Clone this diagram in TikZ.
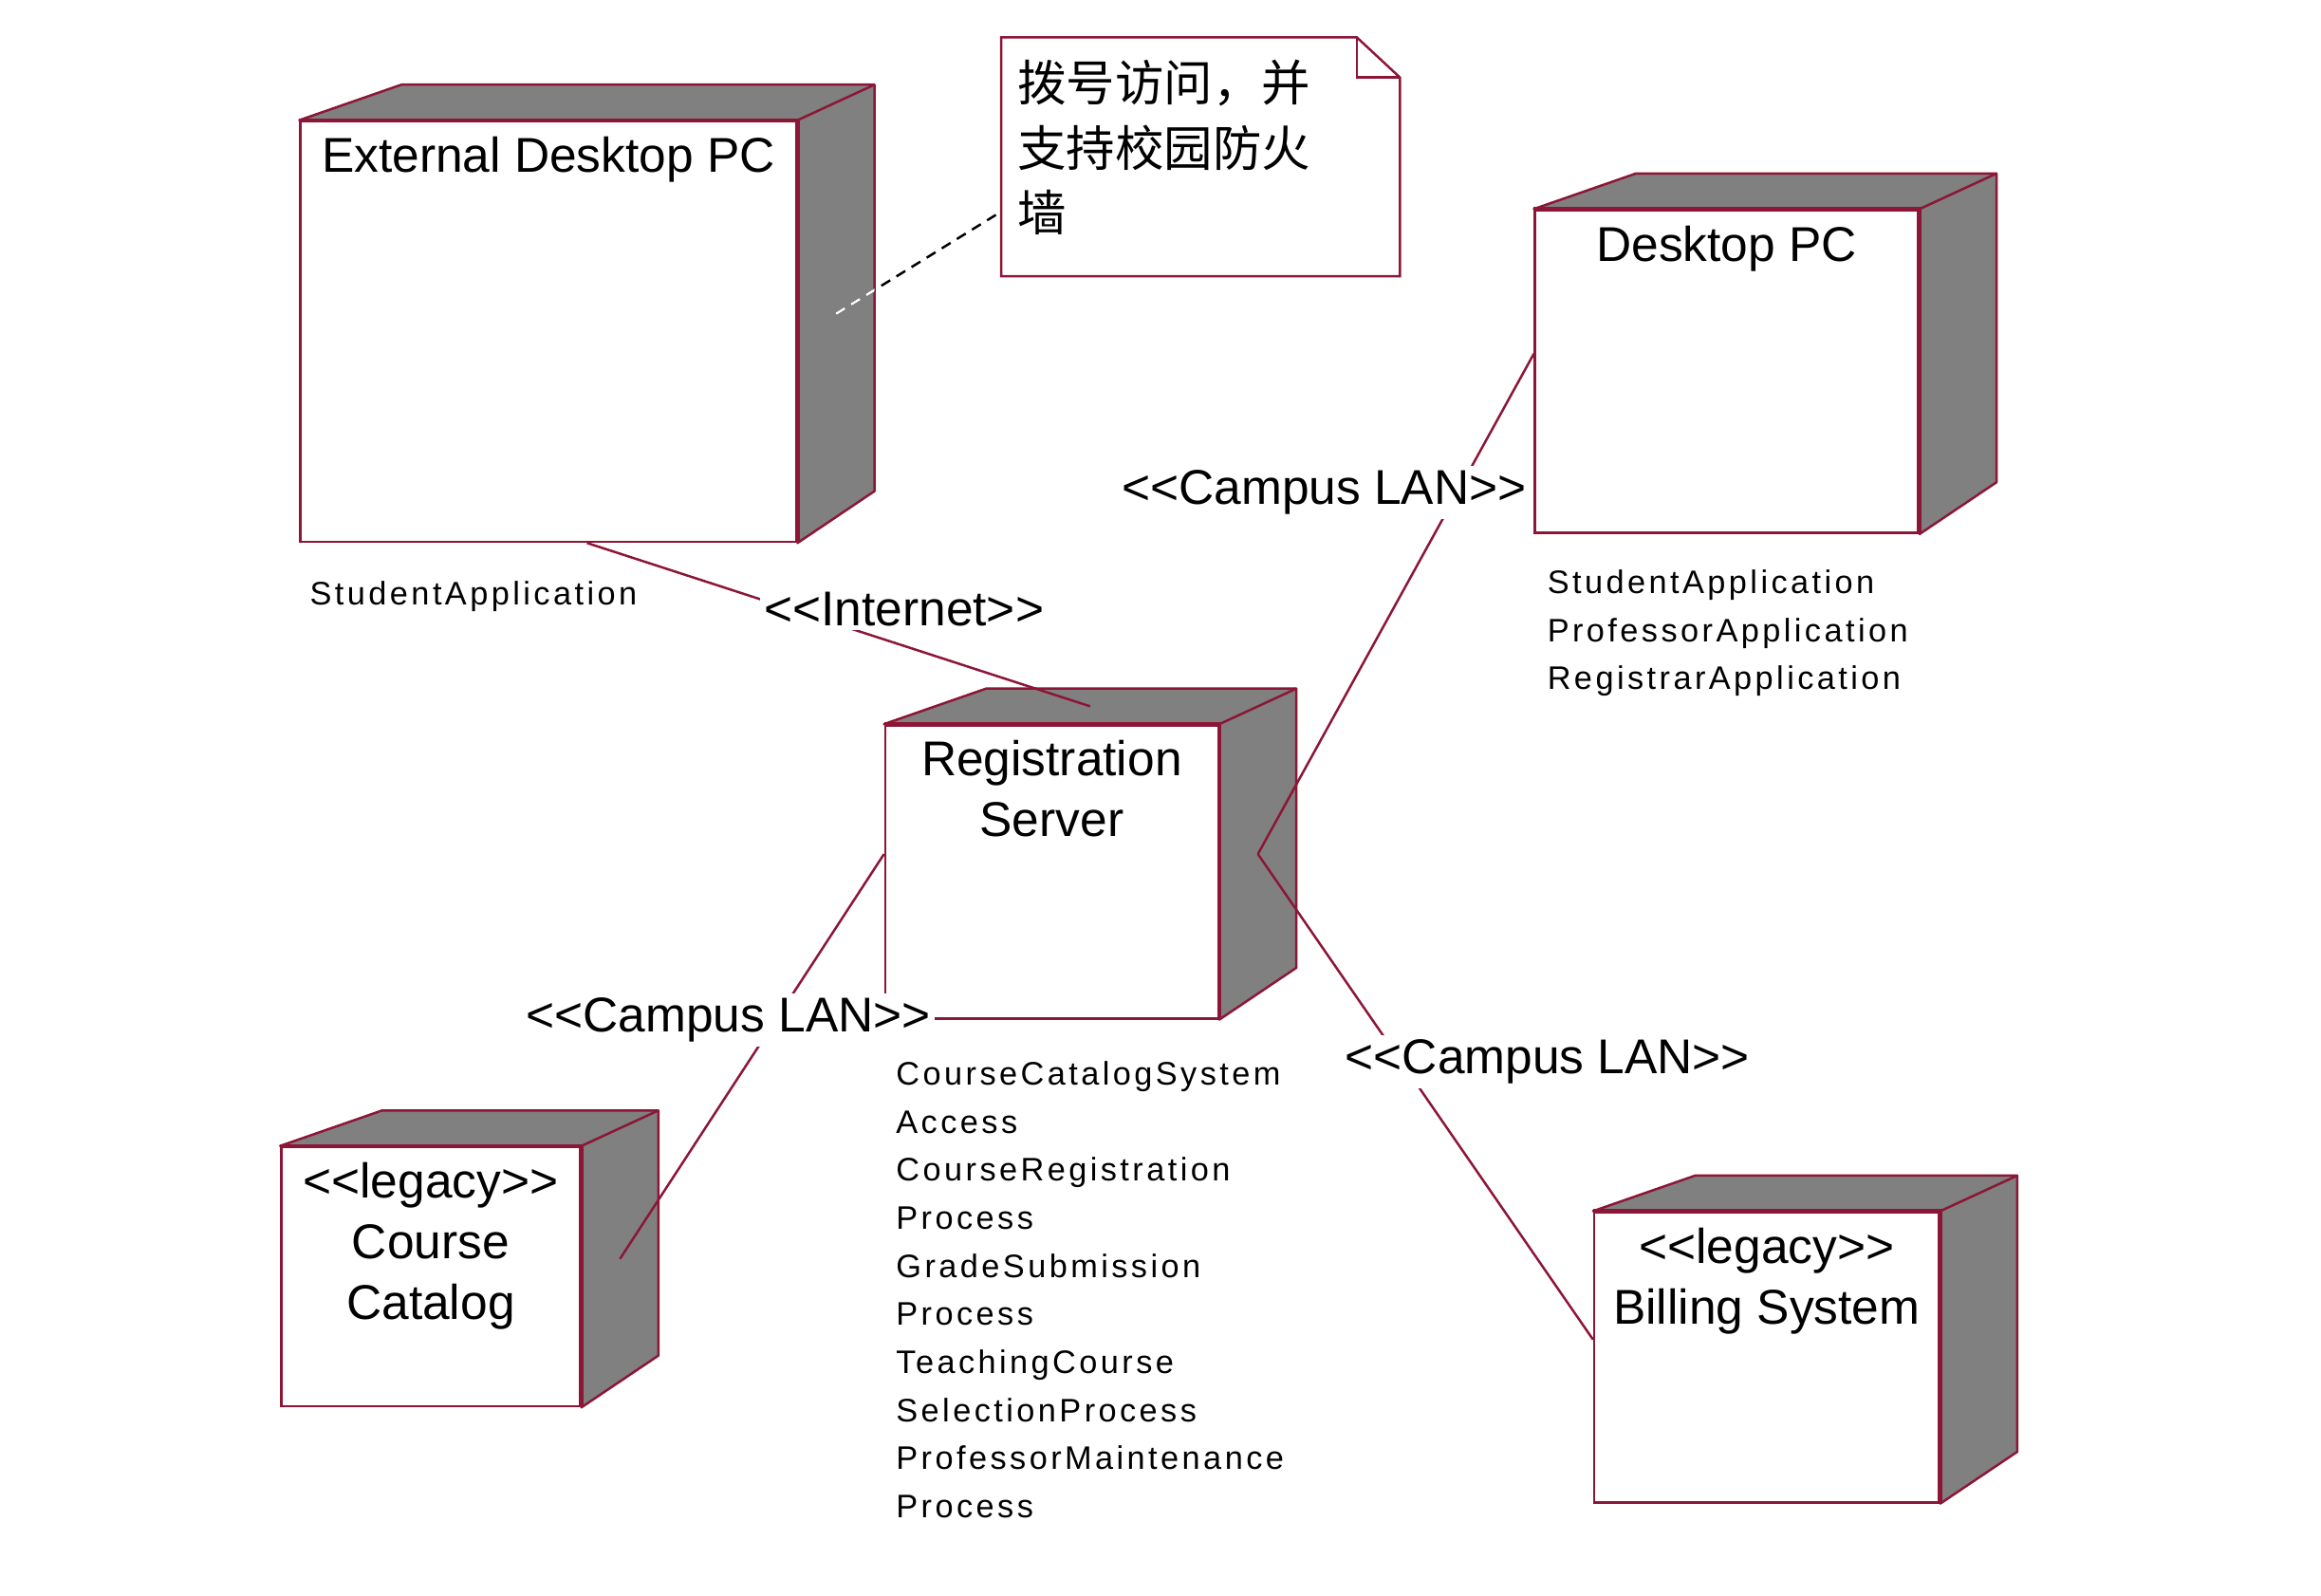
\documentclass[tikz,border=0pt]{standalone}
\usepackage{fontspec}
\setmainfont{Liberation Sans}
\newfontfamily\cjkfont{Noto Sans CJK SC}
\newfontfamily\appfont[LetterSpace=10]{Liberation Sans}
\usetikzlibrary{positioning, fit}
\definecolor{umlred}{RGB}{140,22,55}
\definecolor{facegray}{RGB}{128,128,128}
\newcommand{\stereo}[1]{<\kern0pt<#1>\kern0pt>}

\begin{document}
\begin{tikzpicture}[x=1pt, y=-1pt]
    \tikzset{device/.style 2 args={rectangle, draw=umlred, fill=white, line width=1.6pt, minimum width=#1, minimum height=#2, inner sep=0pt}}
    \tikzset{devtitle/.style={anchor=north, inner sep=0pt, yshift=-11pt, align=center, font=\fontsize{33}{41}\selectfont}}
    \tikzset{face/.style={draw=umlred, fill=facegray, line width=1.6pt, line join=round}}
    \tikzset{rim/.style={draw=umlred, line width=2.7pt}}
    \tikzset{slice/.style={inner sep=0pt, outer sep=0pt}}
    \tikzset{link/.style={draw=umlred, line width=1.6pt}}
    \tikzset{lbl/.style={fill=white, inner sep=3pt, font=\fontsize{33}{41}\selectfont}}
    \tikzset{apps/.style={inner sep=0pt, align=left, font=\appfont\fontsize{22}{32.5}\selectfont}}
    \tikzset{memo/.style={draw=black, line width=1.6pt, dash pattern=on 7pt off 5pt}}
    \tikzset{notetext/.style={anchor=north west, inner sep=0pt, xshift=11pt, yshift=-15pt, align=left, font=\cjkfont\fontsize{33}{44}\selectfont}}
    \useasboundingbox (0,0) rectangle (1568,1078);

    % Nodes (front faces)
    \node[device={335pt}{284pt}, label={[devtitle]north:External Desktop PC}] (ext) at (370.5,224) {};
    \node[device={259pt}{218pt}, label={[devtitle]north:Desktop PC}] (pc) at (1166.5,251) {};
    \node[device={225pt}{198pt}, label={[devtitle]north:Registration\\Server}] (srv) at (710.5,589) {};
    \node[device={202pt}{175pt}, label={[devtitle]north:\stereo{legacy}\\Course\\Catalog}] (cat) at (291,862.5) {};
    \node[device={233pt}{196pt}, label={[devtitle]north:\stereo{legacy}\\Billing System}] (bill) at (1193.5,917) {};

    % Top and side faces
    \foreach \n in {ext,pc,srv,cat,bill} {
        \filldraw[face] (\n.north west) -- ([shift={(69pt,24pt)}]\n.north west) -- ([shift={(52pt,24pt)}]\n.north east) -- ([shift={(52pt,35pt)}]\n.south east) -- (\n.south east) -- (\n.north east) -- cycle;
        \draw[face, fill=none] (\n.north east) -- ++(52pt,24pt);
        \draw[rim] (\n.north west) -- (\n.north east) -- (\n.south east);
        \node[slice, fit={([shift={(26pt,12pt)}]\n.south west) ([shift={(26pt,12pt)}]\n.north east)}] (\n-c) {};
    }

    % Components
    \node[apps, below right=26pt and 7pt of ext.south west] (ext-apps) {StudentApplication};
    \node[apps, below right=24pt and 9pt of pc.south west] (pc-apps) {StudentApplication\\ProfessorApplication\\RegistrarApplication};
    \node[apps, below right=28pt and 8pt of srv.south west] (srv-apps) {CourseCatalogSystem\\Access\\CourseRegistration\\Process\\GradeSubmission\\Process\\TeachingCourse\\SelectionProcess\\ProfessorMaintenance\\Process};

    % Note
    \node[inner sep=0pt, minimum width=269pt, minimum height=161pt, label={[notetext]north west:拨号访问，并\\支持校园防火\\墙}] (note) at (811,106) {};
    \draw[link] (note.north west) -- ([xshift=-29pt]note.north east) -- ([yshift=-27pt]note.north east) -- (note.south east) -- (note.south west) -- cycle;
    \draw[link] ([xshift=-29pt]note.north east) |- ([yshift=-27pt]note.north east);
    \draw[memo] (ext-c.east) -- ([yshift=-37pt]note.west);
    \begin{scope}
        \clip (ext.north east) -- ([shift={(52pt,24pt)}]ext.north east) -- ([shift={(52pt,35pt)}]ext.south east) -- (ext.south east) -- cycle;
        \draw[memo, draw=white] (ext-c.east) -- ([yshift=-37pt]note.west);
    \end{scope}

    % Links
    \draw[link] (ext-c.south |- ext.south) -- node[lbl, pos=0.63, yshift=25pt] {\stereo{Internet}} (srv-c.north);
    \draw[link] (pc.west |- pc-c.center) -- node[lbl, pos=0.277, xshift=-90pt] {\stereo{Campus LAN}} (srv-c.east);
    \draw[link] (srv.west |- srv-c.center) -- node[lbl, pos=0.41, xshift=-32pt] {\stereo{Campus LAN}} (cat-c.east);
    \draw[link] (srv-c.east) -- node[lbl, pos=0.427, xshift=99pt] {\stereo{Campus LAN}} (bill.west |- bill-c.center);
\end{tikzpicture}
\end{document}
